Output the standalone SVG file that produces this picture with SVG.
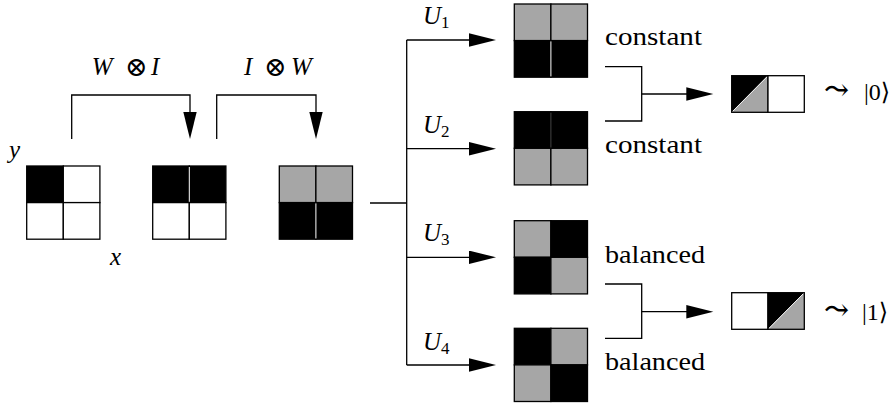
<svg xmlns="http://www.w3.org/2000/svg" width="892" height="406" viewBox="0 0 892 406">
<defs>
<style>
.k{fill:#000}
.g{fill:#a6a6a6}
.w{fill:#fff}
.cell{stroke:#000;stroke-width:1.3}
.div{stroke:#fff;stroke-width:1}
.conn{fill:none;stroke:#000;stroke-width:1.3}
text{font-family:Liberation Serif, DejaVu Serif, serif}
.math{font-style:italic;font-size:25px;fill:#000}
.sub{font-style:normal;font-size:17px}
.op{font-style:normal;font-size:27px}
.rm{font-size:25px;fill:#000}
.ket{font-size:24px;fill:#000}
.arr{font-size:30px}
</style>
<marker id="ah" markerUnits="userSpaceOnUse" markerWidth="28" markerHeight="14" refX="17" refY="6.7" orient="auto">
<path d="M0,0 L27,6.7 L0,13.4 Z" fill="#000"/>
</marker>
</defs>
<rect width="892" height="406" fill="#fff"/>

<g id="connectors">
<path class="conn" d="M71.7,139 V95 H190 V129" marker-end="url(#ah)"/>
<path class="conn" d="M216.7,139 V95 H316 V129" marker-end="url(#ah)"/>
<path class="conn" d="M370,203 H406.7"/>
<path class="conn" d="M406.7,40 V365"/>
<path class="conn" d="M406.7,40 H486" marker-end="url(#ah)"/>
<path class="conn" d="M406.7,148.7 H486" marker-end="url(#ah)"/>
<path class="conn" d="M406.7,257.3 H486" marker-end="url(#ah)"/>
<path class="conn" d="M406.7,365 H486" marker-end="url(#ah)"/>
<path class="conn" d="M605,66.7 H641.7 V121 H605"/>
<path class="conn" d="M641.7,94 H703.3" marker-end="url(#ah)"/>
<path class="conn" d="M605,284 H641.7 V338.3 H605"/>
<path class="conn" d="M641.7,311.7 H703.3" marker-end="url(#ah)"/>
</g>

<g id="labels">
<text class="math" y="75"><tspan x="91.7">W</tspan><tspan class="op" x="125" dy="1">⊗</tspan><tspan x="151" dy="-1">I</tspan></text>
<text class="math" y="75"><tspan x="244">I</tspan><tspan class="op" x="264" dy="1">⊗</tspan><tspan x="291" dy="-1">W</tspan></text>
<text class="math" x="9" y="158">y</text>
<text class="math" x="110" y="265">x</text>
<text class="math" x="423" y="24">U<tspan class="sub" dy="4">1</tspan></text>
<text class="math" x="423" y="132.7">U<tspan class="sub" dy="4">2</tspan></text>
<text class="math" x="423" y="241.3">U<tspan class="sub" dy="4">3</tspan></text>
<text class="math" x="423" y="349.5">U<tspan class="sub" dy="4">4</tspan></text>
<text class="rm" x="605" y="45" textLength="97" lengthAdjust="spacingAndGlyphs">constant</text>
<text class="rm" x="605" y="153.3" textLength="97" lengthAdjust="spacingAndGlyphs">constant</text>
<text class="rm" x="605" y="263.3" textLength="100" lengthAdjust="spacingAndGlyphs">balanced</text>
<text class="rm" x="605" y="370" textLength="100" lengthAdjust="spacingAndGlyphs">balanced</text>
<text class="ket" y="100"><tspan class="arr" x="824">⤳</tspan><tspan x="864">|0⟩</tspan></text>
<text class="ket" y="319.5"><tspan class="arr" x="824">⤳</tspan><tspan x="862">|1⟩</tspan></text>
</g>

<g id="grid-input" transform="translate(26.7,166)">
<rect class="cell k" x="0" y="0" width="36.6" height="36.6"/>
<rect class="cell w" x="36.6" y="0" width="36.6" height="36.6"/>
<rect class="cell w" x="0" y="36.6" width="36.6" height="36.6"/>
<rect class="cell w" x="36.6" y="36.6" width="36.6" height="36.6"/>
</g>

<g id="grid-WI" transform="translate(152.7,166)">
<rect class="cell k" x="0" y="0" width="36.6" height="36.6"/>
<rect class="cell k" x="36.6" y="0" width="36.6" height="36.6"/>
<rect class="cell w" x="0" y="36.6" width="36.6" height="36.6"/>
<rect class="cell w" x="36.6" y="36.6" width="36.6" height="36.6"/>
<line class="div" x1="36.6" y1="1" x2="36.6" y2="35.8"/>
</g>

<g id="grid-IW" transform="translate(279.3,166)">
<rect class="cell g" x="0" y="0" width="36.6" height="36.6"/>
<rect class="cell g" x="36.6" y="0" width="36.6" height="36.6"/>
<rect class="cell k" x="0" y="36.6" width="36.6" height="36.6"/>
<rect class="cell k" x="36.6" y="36.6" width="36.6" height="36.6"/>
<line class="div" x1="36.6" y1="37.4" x2="36.6" y2="72.4"/>
</g>

<g id="grid-U1" transform="translate(514.3,4)">
<rect class="cell g" x="0" y="0" width="36.6" height="36.6"/>
<rect class="cell g" x="36.6" y="0" width="36.6" height="36.6"/>
<rect class="cell k" x="0" y="36.6" width="36.6" height="36.6"/>
<rect class="cell k" x="36.6" y="36.6" width="36.6" height="36.6"/>
<line class="div" x1="36.6" y1="37.4" x2="36.6" y2="72.4"/>
</g>

<g id="grid-U2" transform="translate(514.3,111.7)">
<rect class="cell k" x="0" y="0" width="36.6" height="36.6"/>
<rect class="cell k" x="36.6" y="0" width="36.6" height="36.6"/>
<rect class="cell g" x="0" y="36.6" width="36.6" height="36.6"/>
<rect class="cell g" x="36.6" y="36.6" width="36.6" height="36.6"/>
<line x1="36.6" y1="1" x2="36.6" y2="35.8" stroke="#555" stroke-width="0.8"/>
</g>

<g id="grid-U3" transform="translate(514.3,220.7)">
<rect class="cell g" x="0" y="0" width="36.6" height="36.6"/>
<rect class="cell k" x="36.6" y="0" width="36.6" height="36.6"/>
<rect class="cell k" x="0" y="36.6" width="36.6" height="36.6"/>
<rect class="cell g" x="36.6" y="36.6" width="36.6" height="36.6"/>
</g>

<g id="grid-U4" transform="translate(514.3,328.3)">
<rect class="cell k" x="0" y="0" width="36.6" height="36.6"/>
<rect class="cell g" x="36.6" y="0" width="36.6" height="36.6"/>
<rect class="cell g" x="0" y="36.6" width="36.6" height="36.6"/>
<rect class="cell k" x="36.6" y="36.6" width="36.6" height="36.6"/>
</g>

<g id="result-0" transform="translate(731.7,75.7)">
<path class="k" d="M0,0 H36.3 L0,36.6 Z"/>
<path class="g" d="M36.3,0 V36.6 H0 Z"/>
<line x1="0.5" y1="36.1" x2="35.8" y2="0.5" stroke="#fff" stroke-width="0.9"/>
<rect class="cell" x="0" y="0" width="36.3" height="36.6" fill="none"/>
<rect class="cell w" x="36.3" y="0" width="36.3" height="36.6"/>
</g>

<g id="result-1" transform="translate(731.7,292.7)">
<rect class="cell w" x="0" y="0" width="36.3" height="36.6"/>
<path class="k" d="M36.3,0 H72.6 L36.3,36.6 Z"/>
<path class="g" d="M72.6,0 V36.6 H36.3 Z"/>
<line x1="36.8" y1="36.1" x2="72.1" y2="0.5" stroke="#fff" stroke-width="0.9"/>
<rect class="cell" x="36.3" y="0" width="36.3" height="36.6" fill="none"/>
</g>
</svg>
